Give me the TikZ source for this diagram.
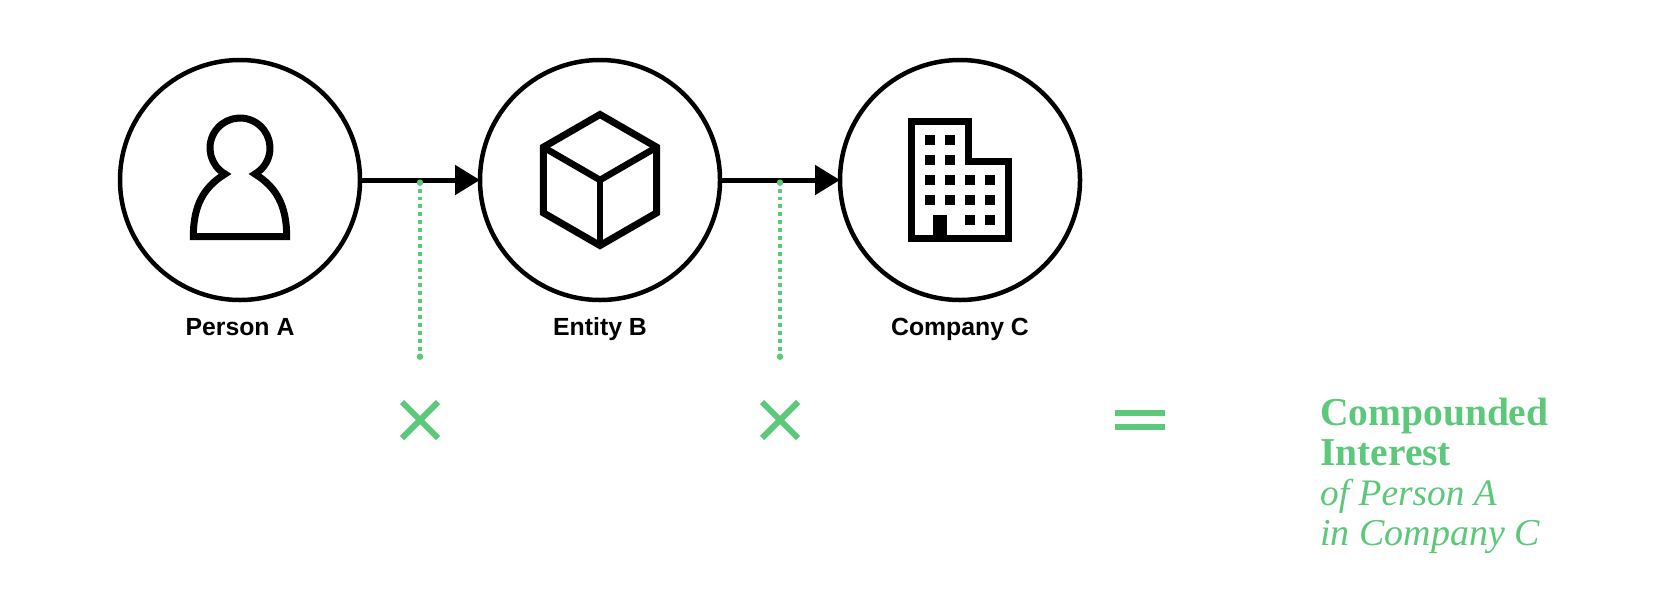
\documentclass[tikz,border=0pt]{standalone}
\usepackage{fontspec}
\setmainfont{Liberation Serif}
\setsansfont{Liberation Sans}
\usetikzlibrary{arrows.meta}
\definecolor{gr}{RGB}{92,200,122}
\tikzset{
  px/.style={x=1pt,y=-1pt},
  ring/.style={circle,draw=black,line width=4.5pt,minimum size=240pt,inner sep=0pt,outer sep=0pt,fill=white},
  flow/.style={line width=5pt,black,-{Triangle[length=25pt,width=29pt,sep=0pt]}},
  icon/.style={line width=7pt,black,line join=miter,miter limit=10},
  spoke/.style={line width=6.6pt,black,line join=miter,miter limit=10},
  win/.style={fill=black},
  dots/.style={gr,line width=4.6pt,dash pattern=on 3.95pt off 3.95pt,dash phase=1.98pt},
  enddot/.style={circle,fill=gr,minimum size=6.5pt,inner sep=0pt,outer sep=0pt},
  cross/.style={gr,line width=6pt},
  eqbar/.style={fill=gr},
  lbl/.style={font=\sffamily\bfseries\fontsize{24.8}{28}\selectfont,anchor=base,inner sep=0pt,black},
  resb/.style={font=\rmfamily\bfseries\fontsize{39.5}{40}\selectfont,anchor=base west,inner sep=0pt,text=gr},
  resi/.style={font=\rmfamily\itshape\fontsize{38}{40}\selectfont,anchor=base west,inner sep=0pt,text=gr},
  resj/.style={resi,font=\rmfamily\itshape\fontsize{37.4}{40}\selectfont},
}
\begin{document}
\begin{tikzpicture}[px]
\useasboundingbox (0,0) rectangle (1680,600);
\fill[white] (0,0) rectangle (1680,600);
\node[ring] (a) at (240,180) {};
\node[ring] (b) at (600,180) {};
\node[ring] (c) at (960,180) {};
\draw[flow] (a) -- (b);
\draw[flow] (b) -- (c);
% person
\draw[icon] (225,174) arc[start angle=120,end angle=420,radius=30]
  .. controls (276,187) and (286.7,205) .. (286.7,236.7) -- (193.3,236.7)
  .. controls (193.3,205) and (204,187) .. cycle;
% cube
\draw[icon] (600,114.5) -- (656.7,147.2) -- (656.7,212.8) -- (600,245.5) -- (543.3,212.8) -- (543.3,147.2) -- cycle;
\draw[spoke] (543.3,147.2) -- (600,180) -- (656.7,147.2);
\draw[spoke] (600,180) -- (600,245.5);
% building
\draw[icon] (911.7,121.7) -- (968.3,121.7) -- (968.3,161.7) -- (1008.3,161.7) -- (1008.3,238.3) -- (911.7,238.3) -- cycle;
\foreach \x/\y in {925/135,945/135,925/155,945/155,925/175,945/175,965/175,985/175,925/195,945/195,965/195,985/195,965/215,985/215}
  \fill[win] (\x,\y) rectangle ++(10,10);
\fill[win] (933.3,215) rectangle (946.7,241.7);
% dotted drops
\coordinate (d1t) at (420,182.7);
\coordinate (d1b) at (420,356.7);
\coordinate (d2t) at (780,182.7);
\coordinate (d2b) at (780,356.7);
\draw[dots] (d1t) -- (d1b);
\draw[dots] (d2t) -- (d2b);
\node[enddot] at (d1t) {};
\node[enddot] at (d1b) {};
\node[enddot] at (d2t) {};
\node[enddot] at (d2b) {};
% crosses
\draw[cross] (402,402) -- (438,438) (402,438) -- (438,402);
\draw[cross] (762,402) -- (798,438) (762,438) -- (798,402);
% equals
\fill[eqbar] (1115,410) rectangle (1165,416);
\fill[eqbar] (1115,424) rectangle (1165,430);
% labels
\node[lbl] (la) at (240,335) {Person A};
\node[lbl] (lb) at (600,335) {Entity B};
\node[lbl] (lc) at (960,335) {Company C};
\node[resb] (r1) at (1320,425) {Compounded};
\node[resb] (r2) at (1320,465) {Interest};
\node[resj] (r3) at (1320,505) {of Person A};
\node[resi] (r4) at (1320,545) {in Company C};
\end{tikzpicture}
\end{document}
